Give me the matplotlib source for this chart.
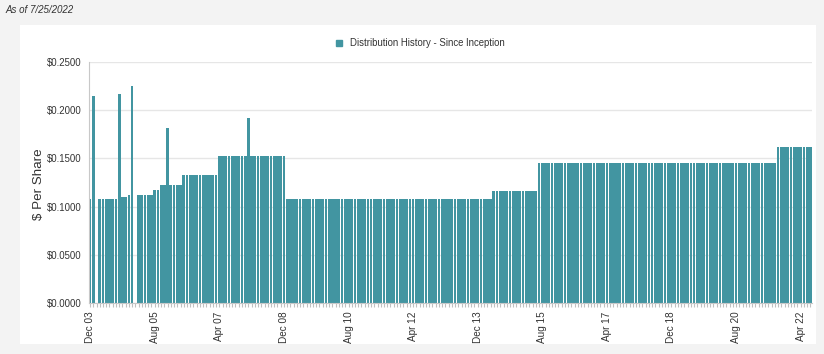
import matplotlib
matplotlib.use('Agg')
import matplotlib.pyplot as plt
from matplotlib.patches import Rectangle
from matplotlib.lines import Line2D

plt.rcParams['font.family'] = ['Liberation Sans', 'DejaVu Sans']

# monthly distributions, Dec 2003 .. Jul 2022 ($ per share)
dist_2003 = [0.108]
dist_2004 = [0.215, 0.0, 0.108, 0.108, 0.108, 0.108, 0.108, 0.108, 0.217, 0.110, 0.110, 0.112]
dist_2005 = [0.225, 0.0, 0.1125, 0.1125, 0.1125, 0.1125, 0.1125, 0.117, 0.117, 0.1225, 0.1225, 0.181]
dist_2006 = [0.1225, 0.1225, 0.1225, 0.1225, 0.1325, 0.1325, 0.1325, 0.1325, 0.1325, 0.1325, 0.1325, 0.1325]
dist_2007 = [0.1325, 0.1325, 0.1325, 0.1525, 0.1525, 0.1525, 0.1525, 0.1525, 0.1525, 0.1525, 0.1525, 0.1525]
dist_2008 = [0.192, 0.1525, 0.1525, 0.1525, 0.1525, 0.1525, 0.1525, 0.1525, 0.1525, 0.1525, 0.1525, 0.1525]
dist_2009 = [0.108] * 12
dist_2010 = [0.108] * 12
dist_2011 = [0.108] * 12
dist_2012 = [0.108] * 12
dist_2013 = [0.108] * 12
dist_2014 = [0.108, 0.108, 0.108, 0.108, 0.116, 0.116, 0.116, 0.116, 0.116, 0.116, 0.116, 0.116]
dist_2015 = [0.116, 0.116, 0.116, 0.116, 0.116, 0.116, 0.145, 0.145, 0.145, 0.145, 0.145, 0.145]
dist_2016 = [0.145] * 12
dist_2017 = [0.145] * 12
dist_2018 = [0.145] * 12
dist_2019 = [0.145] * 12
dist_2020 = [0.145] * 12
dist_2021 = [0.145, 0.145, 0.145, 0.145, 0.145, 0.145, 0.145, 0.145, 0.162, 0.162, 0.162, 0.162]
dist_2022 = [0.162, 0.162, 0.162, 0.162, 0.162, 0.162, 0.162]

values = (dist_2003 + dist_2004 + dist_2005 + dist_2006 + dist_2007 + dist_2008
          + dist_2009 + dist_2010 + dist_2011 + dist_2012 + dist_2013 + dist_2014
          + dist_2015 + dist_2016 + dist_2017 + dist_2018 + dist_2019 + dist_2020
          + dist_2021 + dist_2022)

tick_labels = ['Dec 03', 'Aug 05', 'Apr 07', 'Dec 08', 'Aug 10', 'Apr 12',
               'Dec 13', 'Aug 15', 'Apr 17', 'Dec 18', 'Aug 20', 'Apr 22']
tick_step = 20
y_ticks = [0.0, 0.05, 0.10, 0.15, 0.20, 0.25]

bar_color = '#4295a1'
W, H = 824, 354

fig = plt.figure(figsize=(W / 100, H / 100), dpi=100)
fig.patch.set_facecolor('#f3f3f3')
fig.patches.append(Rectangle((20 / W, 1 - 344 / H), 796 / W, 319 / H,
                             transform=fig.transFigure, facecolor='white',
                             edgecolor='none', zorder=-10))

ax = fig.add_axes([88.5 / W, 1 - 303.3 / H, 723.5 / W, 241.6 / H])
ax.set_facecolor('white')
x = list(range(len(values)))
ax.bar(x, values, width=0.85, color=bar_color, edgecolor='none', zorder=2)

ax.set_xlim(-0.5, len(values) - 0.5)
ax.set_ylim(0, 0.25)
ax.set_yticks(y_ticks)
ax.set_yticklabels(['$%.4f' % v for v in y_ticks], fontsize=6.9, color='#333333')
ax.grid(axis='y', color='#e6e6e6', linewidth=1, zorder=0)
ax.tick_params(axis='y', length=0, pad=5)

ax.set_xticks(list(range(0, len(values), tick_step)))
ax.set_xticklabels(tick_labels, rotation=90, fontsize=7.2, color='#333333')
ax.set_xticks(x, minor=True)
ax.tick_params(axis='x', which='both', length=3, color='#c0c0c0', width=0.8, pad=3)

for s in ['top', 'right']:
    ax.spines[s].set_visible(False)
ax.spines['left'].set_color('#c8c8c8')
ax.spines['bottom'].set_color('#c8c8c8')

fig.text(39 / W, 1 - 184 / H, '$ Per Share', rotation=90, ha='center', va='center',
         fontsize=9.6, color='#333333')
fig.text(5 / W, 1 - 10 / H, 'As of 7/25/2022', ha='left', va='center',
         fontsize=7, style='italic', color='#333333')

handle = Line2D([], [], marker='s', linestyle='none', color=bar_color, markersize=5)
fig.legend([handle], ['Distribution History - Since Inception'], loc='center',
           bbox_to_anchor=(417 / W, 1 - 43 / H), frameon=False, fontsize=6.9,
           handletextpad=0.1, borderaxespad=0, labelcolor='#333333')

fig.savefig('out.png', dpi=100, facecolor=fig.get_facecolor())
